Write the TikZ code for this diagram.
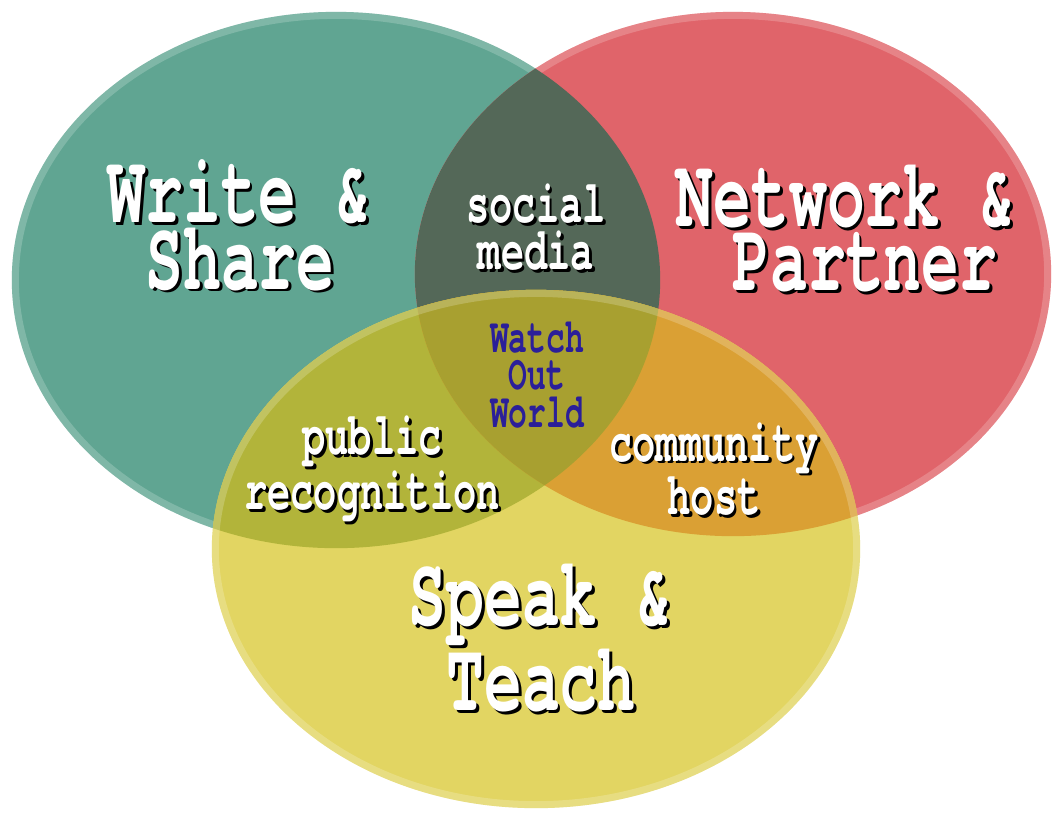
\documentclass[tikz,border=0pt]{standalone}
\usepackage{fontspec}
\newfontfamily\venfont{texgyrecursor}[Extension=.otf, UprightFont=*-regular, BoldFont=*-bold, FakeStretch=0.64]
\usetikzlibrary{calc}

\definecolor{tealc}{RGB}{96,165,146}
\definecolor{redc}{RGB}{224,100,106}
\definecolor{yellc}{RGB}{226,213,98}
\definecolor{socialc}{RGB}{84,104,88}
\definecolor{publicc}{RGB}{178,180,58}
\definecolor{commc}{RGB}{218,160,52}
\definecolor{centerc}{RGB}{168,160,48}
\definecolor{watchc}{RGB}{43,31,153}

\def\tealell{(336,280) ellipse [x radius=3.24cm, y radius=2.68cm]}
\def\redell{(733,274) ellipse [x radius=3.18cm, y radius=2.62cm]}
\def\yellell{(536,549) ellipse [x radius=3.24cm, y radius=2.59cm]}

\tikzset{
  bigtxt/.style={font=\venfont\bfseries\fontsize{28}{#1}\selectfont, align=center, inner sep=0},
  midtxt/.style={font=\venfont\bfseries\fontsize{17.2}{#1}\selectfont, align=center, inner sep=0},
  smalltxt/.style={font=\venfont\bfseries\fontsize{13.9}{10.7}\selectfont, align=center, inner sep=0},
  shadowtxt/.style={black, xshift=0.8pt, yshift=-0.8pt},
  rim/.style={white, opacity=.2, line width=4pt}
}

\begin{document}
\begin{tikzpicture}[x=0.01cm,y=-0.01cm]
\useasboundingbox (0,0) rectangle (1057,823);

\fill[tealc] \tealell;
\begin{scope} \clip \tealell; \draw[rim] \tealell; \end{scope}
\fill[redc] \redell;
\begin{scope} \clip \redell; \draw[rim] \redell; \end{scope}
\begin{scope} \clip \tealell; \fill[socialc] \redell; \end{scope}

\fill[yellc] \yellell;
\begin{scope} \clip \tealell; \fill[publicc] \yellell; \end{scope}
\begin{scope} \clip \redell; \fill[commc] \yellell; \end{scope}
\begin{scope} \clip \tealell; \clip \redell; \fill[centerc] \yellell; \end{scope}
\begin{scope} \clip \yellell; \draw[rim] \yellell; \end{scope}

\foreach \nm/\cx/\cy/\sk/\txt in {writeshare/240/225/19/{Write \&\\Share},
    networkpartner/846/229/18.2/{Network \&\\\hphantom{x}Partner},
    speakteach/541/638/19/{Speak \&\\Teach}} {
  \node[bigtxt=\sk, shadowtxt] (\nm-sh) at (\cx,\cy) {\txt};
  \node[bigtxt=\sk, white] (\nm) at (\cx,\cy) {\txt};
}
\foreach \nm/\cx/\cy/\sk/\txt in {socialmedia/536/227/13.4/{social\\media},
    publicrec/372/469/12/{public\\recognition},
    communityhost/714/469/12/{community\\host}} {
  \node[midtxt=\sk, shadowtxt] (\nm-sh) at (\cx,\cy) {\txt};
  \node[midtxt=\sk, white] (\nm) at (\cx,\cy) {\txt};
}
\node[smalltxt, watchc] (watchout) at (537,375) {Watch\\Out\\World};
\end{tikzpicture}
\end{document}
